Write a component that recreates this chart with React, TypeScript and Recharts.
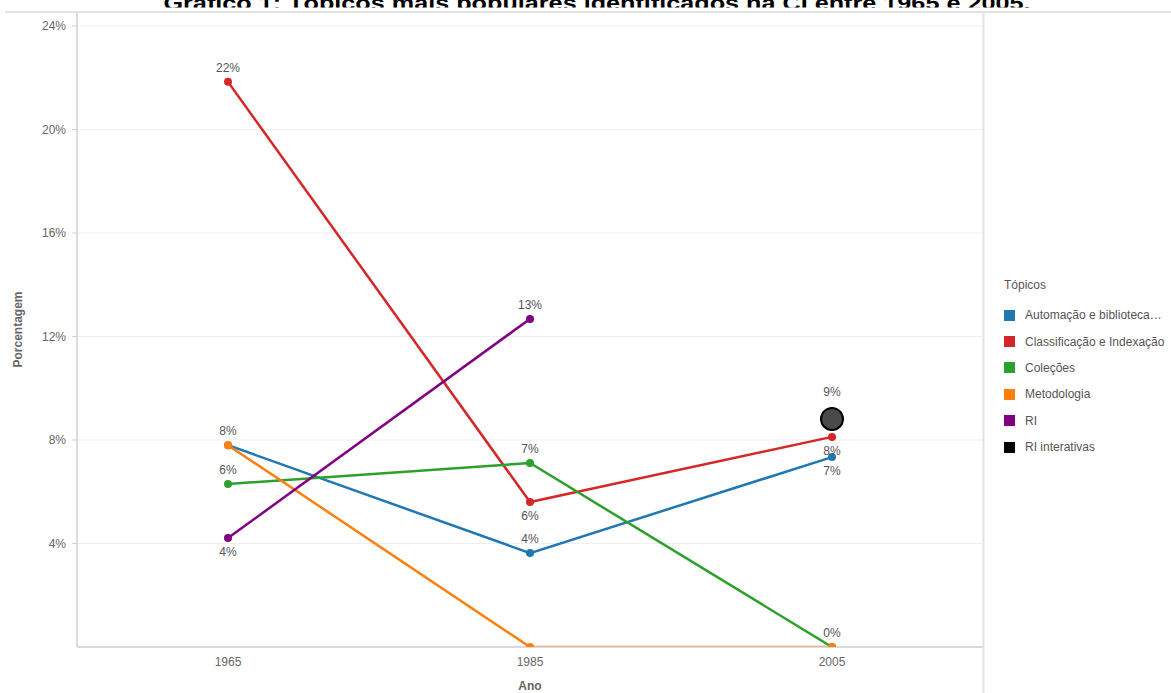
import React from 'react';
import { LineChart, Line, XAxis, YAxis, CartesianGrid, Legend, LabelList } from 'recharts';

// ---- data ----
const years = [1965, 1985, 2005];
const automacao = [7.8, 3.63, 7.34];
const classificacao = [21.84, 5.6, 8.12];
const colecoes = [6.3, 7.11, 0];
const metodologia = [7.8, 0, 0];
const ri = [4.21, 12.68, null];
const riInterativas = [null, null, 8.81];

const seriesKeys = ['automacao', 'classificacao', 'colecoes', 'metodologia', 'ri', 'riInterativas'];
const seriesNames = [
  'Automação e biblioteca…',
  'Classificação e Indexação',
  'Coleções',
  'Metodologia',
  'RI',
  'RI interativas',
];
const yTicks = [4, 8, 12, 16, 20, 24];
const xTicks = [1965, 1985, 2005];

const title = 'Gráfico 1: Tópicos mais populares identificados na CI entre 1965 e 2005.';

const data = years.map((y, i) => ({
  year: y,
  automacao: automacao[i],
  classificacao: classificacao[i],
  colecoes: colecoes[i],
  metodologia: metodologia[i],
  ri: ri[i],
  riInterativas: riInterativas[i],
}));

// ---- styles ----
const FONT = '"Liberation Sans", Arial, sans-serif';
const colors: Record<string, string> = {
  automacao: '#1f77b4',
  classificacao: '#d62728',
  colecoes: '#2ca02c',
  metodologia: '#ff7f0e',
  ri: '#800080',
  riInterativas: '#000000',
};
// -1 = above, 1 = below, 0 = hidden ; per point index
const placement: Record<string, number[]> = {
  automacao: [0, -1, 1],
  classificacao: [-1, 1, 1],
  colecoes: [-1, -1, -1],
  metodologia: [-1, 0, 0],
  ri: [1, -1, 0],
  riInterativas: [0, 0, -2],
};

const makeLabel = (key: string) => (props: any) => {
  const { x, y, value, index } = props;
  if (value === null || value === undefined) return <g />;
  const p = placement[key][index];
  if (!p) return <g />;
  const off = p === -2 ? -27 : p * 14;
  return (
    <text
      x={x}
      y={y + off}
      textAnchor="middle"
      dominantBaseline="central"
      fontSize={12}
      fontFamily={FONT}
      fill="#555"
    >
      {Math.round(value) + '%'}
    </text>
  );
};

const LegendContent = () => (
  <div style={{ fontFamily: FONT, fontSize: 12, color: '#555', whiteSpace: 'nowrap' }}>
    <div style={{ height: 18, lineHeight: '18px', marginBottom: 8 }}>Tópicos</div>
    {seriesKeys.map((k, i) => (
      <div key={k} style={{ display: 'flex', alignItems: 'center', height: 26.4 }}>
        <span
          style={{
            display: 'inline-block',
            width: 11,
            height: 11,
            background: colors[k],
            marginRight: 10,
          }}
        />
        <span>{seriesNames[i]}</span>
      </div>
    ))}
  </div>
);

export default function App() {
  return (
    <div style={{ position: 'fixed', left: 0, top: 0, width: 1171, height: 693, background: '#fff', overflow: 'hidden' }}>
      <LineChart
        width={1171}
        height={693}
        data={data}
        margin={{ top: 12, right: 188, left: 0, bottom: 0 }}
      >
        <CartesianGrid vertical={false} stroke="#efefef" strokeWidth={1} />
        <XAxis
          dataKey="year"
          type="number"
          domain={[1955, 2015]}
          ticks={xTicks}
          height={46}
          tickLine={false}
          axisLine={{ stroke: '#d0d0d0', strokeWidth: 1.5 }}
          tick={{ fontSize: 12, fill: '#666', fontFamily: FONT }}
          tickMargin={4}
          label={{
            content: (p: any) => {
              const vb = p.viewBox;
              return (
                <text
                  x={vb.x + vb.width / 2}
                  y={vb.y + 39}
                  textAnchor="middle"
                  dominantBaseline="central"
                  fontSize={12}
                  fontWeight="bold"
                  fill="#666"
                  fontFamily={FONT}
                >
                  Ano
                </text>
              );
            },
          }}
        />
        <YAxis
          type="number"
          domain={[0, 24.54]}
          ticks={yTicks}
          width={77}
          allowDataOverflow
          tickFormatter={(v: number) => v + '%'}
          tickLine={{ stroke: '#d0d0d0' }}
          tickSize={5}
          axisLine={{ stroke: '#d0d0d0', strokeWidth: 1.5 }}
          tick={{ fontSize: 12, fill: '#666', fontFamily: FONT }}
          tickMargin={6}
          label={{
            content: (p: any) => {
              const vb = p.viewBox;
              const cy = vb.y + vb.height / 2;
              return (
                <text
                  x={18}
                  y={cy}
                  transform={`rotate(-90 18 ${cy})`}
                  textAnchor="middle"
                  dominantBaseline="central"
                  fontSize={12}
                  fontWeight="bold"
                  fill="#666"
                  fontFamily={FONT}
                >
                  Porcentagem
                </text>
              );
            },
          }}
        />
        <Legend
          layout="vertical"
          verticalAlign="middle"
          align="center"
          content={LegendContent as any}
          wrapperStyle={{ position: 'absolute', left: 1004, top: 276, width: 170 }}
        />
        {seriesKeys.map((k, i) => {
          if (k === 'riInterativas') {
            return (
              <Line
                key={k}
                dataKey={k}
                name={seriesNames[i]}
                stroke={colors[k]}
                strokeWidth={2.5}
                isAnimationActive={false}
                dot={(p: any) =>
                  p.value === null || p.value === undefined || p.cy == null ? (
                    <g key={`d-${k}-${p.index}`} />
                  ) : (
                    <circle
                      key={`d-${k}-${p.index}`}
                      cx={p.cx}
                      cy={p.cy}
                      r={11}
                      fill="#4a4a4a"
                      stroke="#000"
                      strokeWidth={2}
                    />
                  )
                }
                activeDot={false}
              >
                <LabelList dataKey={k} content={makeLabel(k)} />
              </Line>
            );
          }
          return (
            <Line
              key={k}
              dataKey={k}
              name={seriesNames[i]}
              stroke={colors[k]}
              strokeWidth={2.5}
              isAnimationActive={false}
              dot={{ r: 4, fill: colors[k], stroke: colors[k], strokeWidth: 0 }}
              activeDot={false}
            >
              <LabelList dataKey={k} content={makeLabel(k)} />
            </Line>
          );
        })}
      </LineChart>
      <svg
        width={1171}
        height={693}
        style={{ position: 'absolute', left: 0, top: 0, pointerEvents: 'none' }}
      >
        <defs>
          <clipPath id="titleClip">
            <rect x={0} y={0} width={1171} height={7.5} />
          </clipPath>
        </defs>
        <text
          x={597}
          y={10}
          textAnchor="middle"
          fontSize={20}
          fontWeight="bold"
          fill="#000"
          fontFamily={FONT}
          textLength={867}
          lengthAdjust="spacingAndGlyphs"
          clipPath="url(#titleClip)"
        >
          {title}
        </text>
        <line x1={5} y1={12} x2={1171} y2={12} stroke="#e2e2e2" strokeWidth={2} />
        <line x1={983.5} y1={12} x2={983.5} y2={693} stroke="#e2e2e2" strokeWidth={2} />
      </svg>
    </div>
  );
}
